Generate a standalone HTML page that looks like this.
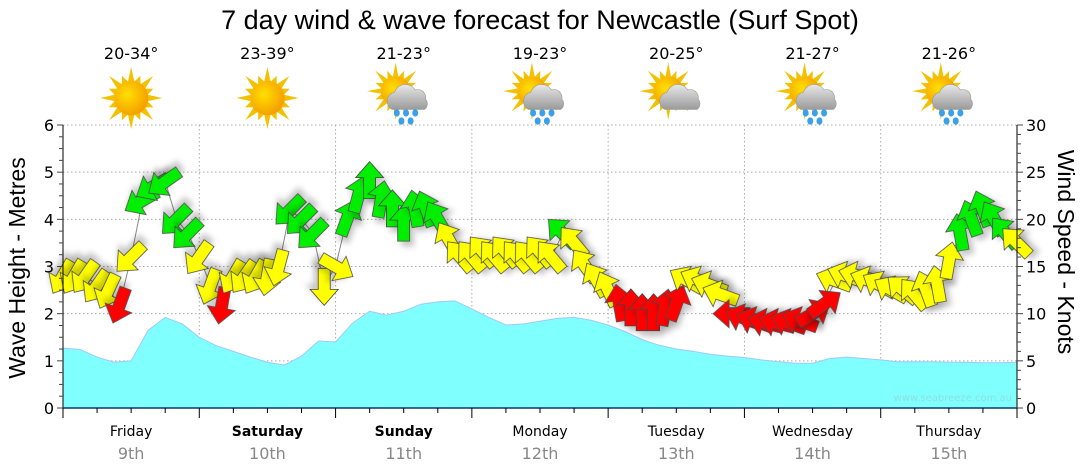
<!DOCTYPE html>
<html><head><meta charset="utf-8"><style>
body{margin:0;background:#fff;}
svg{display:block;font-family:"DejaVu Sans","Liberation Sans",sans-serif;}
</style></head><body>
<svg id="chart" width="1080" height="475" viewBox="0 0 1080 475" xmlns="http://www.w3.org/2000/svg">
<defs>
<filter id="sh" x="-50%" y="-50%" width="200%" height="200%"><feDropShadow dx="4" dy="5" stdDeviation="3" flood-color="#000" flood-opacity="0.22"/></filter>
<radialGradient id="sunG" cx="0.4" cy="0.4" r="0.6"><stop offset="0" stop-color="#ffe000"/><stop offset="1" stop-color="#f5a000"/></radialGradient>
<linearGradient id="cloudG" x1="0" y1="0" x2="0" y2="1"><stop offset="0" stop-color="#e8e8e8"/><stop offset="1" stop-color="#9a9a9a"/></linearGradient>
</defs>
<text x="540" y="29" text-anchor="middle" font-family="Liberation Sans, sans-serif" font-size="27" fill="#000">7 day wind &amp; wave forecast for Newcastle (Surf Spot)</text>
<g id="grid"></g>
<g id="wave"></g>
<g id="wind"></g>
<g id="axes"></g>
<g id="wx"></g>
<text x="1012" y="401" text-anchor="end" font-size="10" fill="#8fdede">www.seabreeze.com.au</text>
<text transform="translate(25,268) rotate(-90)" text-anchor="middle" font-family="Liberation Sans, sans-serif" font-size="23">Wave Height - Metres</text>
<text transform="translate(1058,252) rotate(90)" text-anchor="middle" font-family="Liberation Sans, sans-serif" font-size="23">Wind Speed - Knots</text>
</svg>
<script>
const days = ["Friday","Saturday","Sunday","Monday","Tuesday","Wednesday","Thursday"];
const dates = ["9th","10th","11th","12th","13th","14th","15th"];
const boldDays = [false,true,true,false,false,false,false];
const temps = ["20-34°","23-39°","21-23°","19-23°","20-25°","21-27°","21-26°"];
const icons = ["sun","sun","rain","rain","cloud","rain","rain"];
const waveTicks = [0,1,2,3,4,5,6];
const windTicks = [0,5,10,15,20,25,30];
// wave height (m) every 3 hours
const waveHeights = [1.27,1.24,1.08,0.97,1.0,1.65,1.92,1.78,1.5,1.32,1.2,1.08,0.97,0.91,1.1,1.42,1.4,1.8,2.05,1.97,2.05,2.2,2.25,2.27,2.1,1.92,1.76,1.78,1.84,1.9,1.92,1.86,1.76,1.62,1.45,1.33,1.25,1.2,1.14,1.1,1.07,1.02,0.98,0.95,0.95,1.05,1.08,1.05,1.02,0.98,0.98,0.98,0.97,0.97,0.96,0.96,0.97];
// wind every 2 hours: speed (knots), direction arrow points to (deg)
const windSpeed = [14,14,14,13,12.5,11,16,22,23.5,24,20,18.5,
 16,13,11,14,14,14,14,15,21,20,18.5,13,
 15,20,22.5,24,22,21,19.5,21,21,20,17.8,16,
 16,16.5,16,16.5,16,16,16.5,16,18.5,17.5,15,13.5,
 12.5,11,10.5,10,10,10.5,11,13.5,13.5,13,12,10,
 9.5,9.2,9,9,9,9.2,10,11,13.5,14,14,13.5,
 13,12.5,12.5,12,12.5,13,15.5,18.5,20,21,20,18.5,17.5];
const windDir = [210,210,215,215,205,200,225,240,240,235,225,225,
 215,200,190,210,215,210,190,195,225,225,225,180,
 120,20,15,0,10,0,0,350,340,330,330,320,
 320,320,320,320,320,320,320,320,315,320,325,330,
 335,350,0,0,0,10,20,300,295,290,290,270,
 290,290,285,285,290,290,60,55,290,290,285,290,
 300,300,310,320,340,350,10,350,340,340,330,320,315];

const NS="http://www.w3.org/2000/svg";
const X0=63,X1=1017,YB=408,YT=125,HOURS=168;
const xh=h=>X0+(X1-X0)*h/HOURS;
const ym=m=>YB-(YB-YT)*m/6;
const yk=k=>YB-(YB-YT)*k/30;
function mk(tag,attrs,parent){const e=document.createElementNS(NS,tag);for(const k in attrs)e.setAttribute(k,attrs[k]);parent.appendChild(e);return e;}
const grid=document.getElementById('grid'),axes=document.getElementById('axes'),wave=document.getElementById('wave'),wind=document.getElementById('wind'),wx=document.getElementById('wx');

waveTicks.forEach(v=>{if(v>0){const l=mk('line',{x1:X0,x2:X1,y1:ym(v),y2:ym(v),stroke:'#aaa','stroke-dasharray':'1.5,2.5'},grid);

}});
for(let d=1;d<7;d++){const l=mk('line',{x1:xh(d*24),x2:xh(d*24),y1:YT,y2:YB,stroke:'#aaa','stroke-dasharray':'1.5,2.5'},grid);

}

let d='M'+X0+','+YB;
waveHeights.forEach((v,i)=>{d+=' L'+xh(i*3).toFixed(1)+','+ym(v).toFixed(1);});
d+=' L'+X1+','+YB+' Z';
const wa=mk('path',{d:d,fill:'#80ffff',stroke:'#a0c8ff','stroke-width':1},wave);



let ld='';
windSpeed.forEach((s,i)=>{ld+=(i?' L':'M')+xh(i*2).toFixed(1)+','+yk(s).toFixed(1);});
const wl=mk('path',{d:ld,fill:'none',stroke:'#888','stroke-width':1},wind);


const arrowPts="0,-20 14,-4 6,-4 6,17 -6,17 -6,-4 -14,-4";
windSpeed.forEach((s,i)=>{
  const col=s<11.8?'#ff0000':(s<18.2?'#ffff00':'#00ee00');
  const a=mk('polygon',{points:arrowPts,fill:col,stroke:'#444','stroke-width':0.8,filter:'url(#sh)',
    transform:'translate('+xh(i*2).toFixed(1)+','+yk(s).toFixed(1)+') rotate('+windDir[i]+')'},wind);
  
  
});

mk('line',{x1:X0,x2:X0,y1:YT,y2:YB,stroke:'#000'},axes);
mk('line',{x1:X1,x2:X1,y1:YT,y2:YB,stroke:'#000'},axes);
mk('line',{x1:X0,x2:X1,y1:YB,y2:YB,stroke:'#0a3a6a','stroke-width':1.5},axes);
for(let m=0;m<=24;m++){const y=YB-(YB-YT)*m/24;mk('line',{x1:X0-(m%4?4:6),x2:X0,y1:y,y2:y,stroke:'#444'},axes);}
for(let k=0;k<=30;k++){const y=yk(k);mk('line',{x1:X1,x2:X1+(k%5?4:6),y1:y,y2:y,stroke:'#444'},axes);}
waveTicks.forEach(v=>{const t=mk('text',{x:X0-9,y:ym(v)+6,'text-anchor':'end','font-size':16},axes);t.textContent=v;

});
windTicks.forEach(v=>{const t=mk('text',{x:X1+9,y:yk(v)+6,'font-size':16},axes);t.textContent=v;

});
for(let h=0;h<=HOURS;h+=6){mk('line',{x1:xh(h),x2:xh(h),y1:YB,y2:YB+(h%24?5:10),stroke:'#000'},axes);}
days.forEach((n,i)=>{
  const cx=xh(i*24+12);
  const t=mk('text',{x:cx,y:436,'text-anchor':'middle','font-size':14,'font-weight':boldDays[i]?'bold':'normal'},axes);t.textContent=n;
  
  
  const t2=mk('text',{x:cx,y:459,'text-anchor':'middle','font-size':16,fill:'#888'},axes);t2.textContent=dates[i];
  
  
  const t3=mk('text',{x:cx,y:59,'text-anchor':'middle','font-size':16},wx);t3.textContent=temps[i];
  
  
  const g=mk('g',{transform:'translate('+cx+',98) scale(1.15)'},wx);
  
  
  const sunR=icons[i]=='sun'?15:13, sx=icons[i]=='sun'?0:-7, sy=icons[i]=='sun'?0:-6;
  for(let r=0;r<16;r++){const ang=r*22.5*Math.PI/180,L=r%2?sunR+6:sunR+12;
    mk('polygon',{points:[(sx+Math.cos(ang)*L).toFixed(1)+','+(sy+Math.sin(ang)*L).toFixed(1),
      (sx+Math.cos(ang+0.18)*sunR).toFixed(1)+','+(sy+Math.sin(ang+0.18)*sunR).toFixed(1),
      (sx+Math.cos(ang-0.18)*sunR).toFixed(1)+','+(sy+Math.sin(ang-0.18)*sunR).toFixed(1)].join(' '),fill:'#f2c200'},g);}
  mk('circle',{cx:sx,cy:sy,r:sunR,fill:'url(#sunG)'},g);
  if(icons[i]!='sun'){
    mk('path',{d:'M-10,10 a8,8 0 0,1 2,-15 a10,10 0 0,1 18,-2 a7,7 0 0,1 9,8 a6,6 0 0,1 -1,9 Z',fill:'url(#cloudG)',stroke:'#999','stroke-width':0.5},g);
    if(icons[i]=='rain'){[[-6,13],[2,13],[10,13],[-2,20],[6,20]].forEach(p=>mk('ellipse',{cx:p[0],cy:p[1],rx:2.6,ry:3.2,fill:'#3aa0e8'},g));}
  }
});
</script>
</body></html>
